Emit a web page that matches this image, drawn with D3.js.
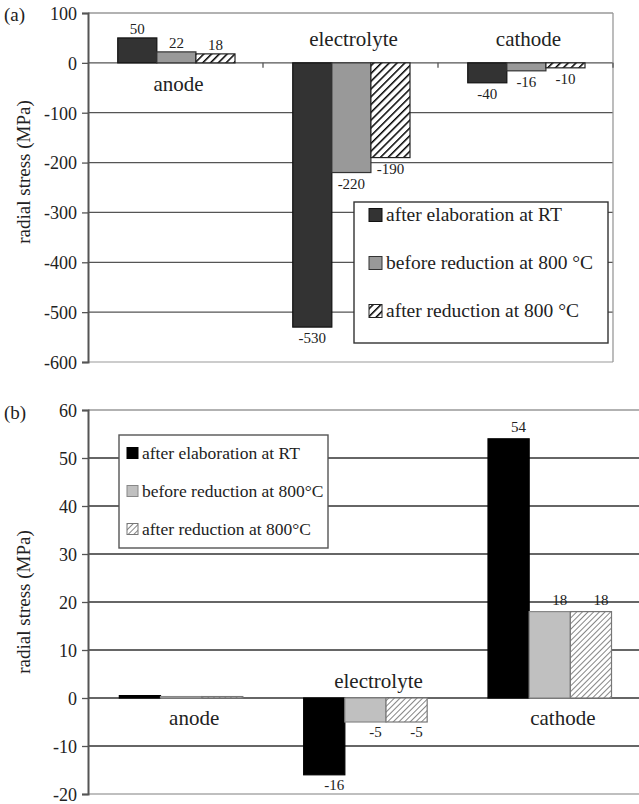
<!DOCTYPE html>
<html>
<head>
<meta charset="utf-8">
<script src="https://cdn.jsdelivr.net/npm/d3@7"></script>
<style>
  body { margin: 0; background: #fff; }
  svg text { font-family: "Liberation Serif", "Times New Roman", serif; fill: #222; }
</style>
</head>
<body>
<svg id="chart" width="639" height="804"></svg>
<script>
var categories = ['anode', 'electrolyte', 'cathode'];

// panel (a)
var seriesA = ['after elaboration at RT', 'before reduction at 800 °C', 'after reduction at 800 °C'];
var elabA = [50, -530, -40],
    beforeA = [22, -220, -16],
    afterA = [18, -190, -10];
var ticksA = [100, 0, -100, -200, -300, -400, -500, -600];

// panel (b)
var seriesB = ['after elaboration at RT', 'before reduction at 800°C', 'after reduction at 800°C'];
var elabB = [0.5, -16, 54],
    beforeB = [0.3, -5, 18],
    afterB = [0.3, -5, 18];
var ticksB = [60, 50, 40, 30, 20, 10, 0, -10, -20];

var FONT = '"Liberation Serif", "Times New Roman", serif';

var svg = d3.select('#chart').attr('font-family', FONT);
var defs = svg.append('defs');

// hatch patterns
var hA = defs.append('pattern').attr('id', 'hatchA').attr('patternUnits', 'userSpaceOnUse')
    .attr('width', 5.5).attr('height', 5.5).attr('patternTransform', 'rotate(45)');
hA.append('rect').attr('width', 5.5).attr('height', 5.5).attr('fill', '#fff');
hA.append('line').attr('x1', 0).attr('y1', 0).attr('x2', 0).attr('y2', 5.5)
    .style('stroke', '#000').style('stroke-width', 3);

var hB = defs.append('pattern').attr('id', 'hatchB').attr('patternUnits', 'userSpaceOnUse')
    .attr('width', 4).attr('height', 4).attr('patternTransform', 'rotate(45)');
hB.append('rect').attr('width', 4).attr('height', 4).attr('fill', '#fff');
hB.append('line').attr('x1', 0).attr('y1', 0).attr('x2', 0).attr('y2', 4)
    .style('stroke', '#333').style('stroke-width', 1.2);

function drawPanel(cfg) {
    var g = svg.append('g');
    var x0 = d3.scaleBand().domain(categories).range([cfg.left, cfg.right]);
    var bw = x0.bandwidth();
    var x1 = d3.scaleBand().domain([0, 1, 2]).range([bw * 0.17, bw * 0.84]);
    var y = d3.scaleLinear().domain([cfg.ticks[cfg.ticks.length - 1], cfg.ticks[0]]).range([cfg.bottom, cfg.top]);

    // grid lines
    g.selectAll('.grid').data(cfg.ticks).enter().append('line')
        .attr('x1', cfg.left).attr('x2', cfg.gridRight)
        .attr('y1', function(d) { return y(d); }).attr('y2', function(d) { return y(d); })
        .style('stroke', function(d, i) {
            if (i === 0) return cfg.topColor;
            if (i === cfg.ticks.length - 1) return cfg.bottomColor;
            return cfg.gridColor;
        })
        .style('stroke-width', 1.3);

    if (cfg.frame) {
        g.append('line').attr('x1', cfg.right).attr('x2', cfg.right)
            .attr('y1', cfg.top).attr('y2', cfg.bottom)
            .style('stroke', '#999').style('stroke-width', 1.3);
    }

    // y axis
    var yAxis = d3.axisLeft(y).tickValues(cfg.ticks).tickSize(6).tickFormat(function(d) { return String(d); });
    var ax = g.append('g').attr('transform', 'translate(' + cfg.left + ',0)').call(yAxis)
        .attr('font-family', FONT);
    ax.select('.domain').style('stroke', '#555').style('stroke-width', 2);
    ax.selectAll('.tick line').style('stroke', '#555').style('stroke-width', 1.3);
    ax.selectAll('.tick text').attr('x', -11).attr('dy', '0.35em')
        .style('font-size', '18px').style('font-family', FONT).style('fill', '#222');

    // category ticks on zero line
    if (cfg.catTicks) {
        g.selectAll('.ctick').data(categories).enter().append('line')
            .attr('x1', function(d) { return x0(d) + bw; }).attr('x2', function(d) { return x0(d) + bw; })
            .attr('y1', y(0)).attr('y2', y(0) + 5)
            .style('stroke', '#555').style('stroke-width', 1.3);
    }

    // bars
    cfg.series.forEach(function(vals, si) {
        g.selectAll('.bar' + si).data(vals).enter().append('rect')
            .attr('x', function(d, i) { return x0(categories[i]) + x1(si); })
            .attr('width', x1.bandwidth())
            .attr('y', function(d) { return y(Math.max(0, d)); })
            .attr('height', function(d) { return Math.abs(y(d) - y(0)); })
            .style('fill', cfg.fills[si])
            .style('stroke', cfg.strokes[si])
            .style('stroke-width', 1.2);
    });

    // value labels
    cfg.series.forEach(function(vals, si) {
        vals.forEach(function(d, i) {
            if (Math.abs(d) < 1) return;
            g.append('text')
                .attr('x', x0(categories[i]) + x1(si) + x1.bandwidth() / 2 + cfg.labelDx)
                .attr('y', d >= 0 ? y(d) - cfg.posGap : y(d) + cfg.negGap)
                .attr('text-anchor', 'middle')
                .style('font-size', '15px')
                .text(d);
        });
    });

    // category labels
    g.selectAll('.cat').data(categories).enter().append('text')
        .attr('x', function(d) { return x0(d) + bw / 2 + cfg.catDx; })
        .attr('y', function(d, i) { return cfg.series[0][i] >= 0 ? y(0) + cfg.catBelow : y(0) - cfg.catAbove; })
        .attr('text-anchor', 'middle')
        .style('font-size', '21px')
        .text(function(d) { return d; });

    // y title
    g.append('text')
        .attr('transform', 'translate(' + cfg.titleX + ',' + cfg.titleY + ') rotate(-90)')
        .attr('text-anchor', 'middle')
        .style('font-size', '19px')
        .text('radial stress (MPa)');

    // panel letter
    g.append('text').attr('x', 4).attr('y', cfg.letterY)
        .style('font-size', '19px').text(cfg.letter);

    // legend
    var lg = g.append('g');
    lg.append('rect')
        .attr('x', cfg.legend.x).attr('y', cfg.legend.y)
        .attr('width', cfg.legend.w).attr('height', cfg.legend.h)
        .style('fill', '#fff').style('stroke', cfg.legend.stroke).style('stroke-width', 1.4);
    cfg.names.forEach(function(name, i) {
        var cy = cfg.legend.y + cfg.legend.first + i * cfg.legend.step;
        lg.append('rect')
            .attr('x', cfg.legend.x + cfg.legend.sx).attr('y', cy - cfg.legend.sw / 2)
            .attr('width', cfg.legend.sw).attr('height', cfg.legend.sw)
            .style('fill', cfg.fills[i]).style('stroke', cfg.strokes[i]).style('stroke-width', 1);
        lg.append('text')
            .attr('x', cfg.legend.x + cfg.legend.sx + cfg.legend.sw + 4).attr('y', cy)
            .attr('dy', '0.33em')
            .style('font-size', cfg.legend.font)
            .text(name);
    });
}

drawPanel({
    letter: '(a)', letterY: 21,
    left: 88, right: 613, gridRight: 613, top: 13, bottom: 362,
    ticks: ticksA, frame: true, catTicks: true,
    topColor: '#999', bottomColor: '#bbb', gridColor: '#555',
    series: [elabA, beforeA, afterA], names: seriesA,
    fills: ['#333', '#999', 'url(#hatchA)'],
    strokes: ['#111', '#333', '#222'],
    labelDx: 0, posGap: 4, negGap: 16,
    catDx: 3, catBelow: 28, catAbove: 17,
    titleX: 30, titleY: 172,
    legend: { x: 354, y: 202, w: 254, h: 141, first: 13, step: 48, sx: 15, sw: 13, font: '19.5px', stroke: '#333' }
});

drawPanel({
    letter: '(b)', letterY: 419,
    left: 88, right: 641, gridRight: 639, top: 410, bottom: 794,
    ticks: ticksB, frame: false, catTicks: false,
    topColor: '#999', bottomColor: '#aaa', gridColor: '#333',
    series: [elabB, beforeB, afterB], names: seriesB,
    fills: ['#000', '#c0c0c0', 'url(#hatchB)'],
    strokes: ['#000', '#888', '#777'],
    labelDx: 10, posGap: 7, negGap: 15,
    catDx: 14, catBelow: 27, catAbove: 10,
    titleX: 30, titleY: 602,
    legend: { x: 119, y: 435, w: 209, h: 113, first: 18, step: 38, sx: 8, sw: 11, font: '17.5px', stroke: '#555' }
});
</script>
</body>
</html>
